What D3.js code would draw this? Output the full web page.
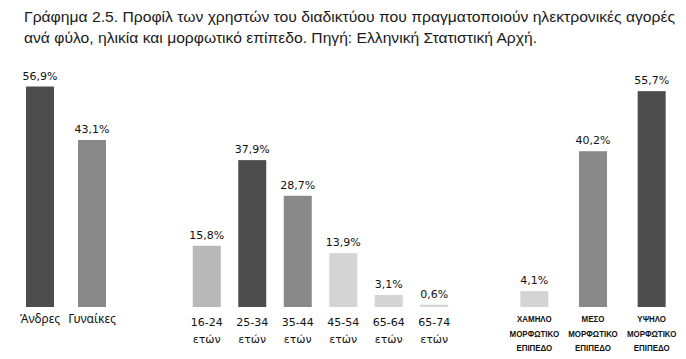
<!DOCTYPE html>
<html><head><meta charset="utf-8">
<script src="https://cdn.jsdelivr.net/npm/d3@7"></script>
<style>body{margin:0;background:#fff}svg{display:block}</style>
</head><body>
<svg id="c" width="686" height="359"></svg>
<script>
const titleLines = ["Γράφημα 2.5. Προφίλ των χρηστών του διαδικτύου που πραγματοποιούν ηλεκτρονικές αγορές",
                    "ανά φύλο, ηλικία και μορφωτικό επίπεδο. Πηγή: Ελληνική Στατιστική Αρχή."];
const genderCats = ["Άνδρες", "Γυναίκες"];
const genderVals = [56.9, 43.1];
const ageCats = ["16-24", "25-34", "35-44", "45-54", "65-64", "65-74"];
const ageVals = [15.8, 37.9, 28.7, 13.9, 3.1, 0.6];
const eduCats = ["ΧΑΜΗΛΟ", "ΜΕΣΟ", "ΥΨΗΛΟ"];
const eduVals = [4.1, 40.2, 55.7];

const fmt = v => d3.format(".1f")(v).replace(".", ",") + "%";
const svg = d3.select("#c");

const titleW = [651, 513];
svg.append("g").selectAll("text").data(titleLines).join("text")
  .attr("x", 24).attr("y", (d,i) => 22 + i*21)
  .attr("font-family", "Liberation Sans, Arial, sans-serif").attr("font-size", 15)
  .attr("textLength", (d,i) => titleW[i]).attr("lengthAdjust", "spacingAndGlyphs")
  .attr("fill", "#1a1a1a").text(d => d);

const y = d3.scaleLinear().domain([0, 56]).range([307, 90]);
const barW = 28;

const groups = [
  {cats: genderCats, vals: genderVals, range: [14, 118],
   colors: ["#4d4d4d", "#898989"], kind: "gender"},
  {cats: ageCats, vals: ageVals, range: [184, 457],
   colors: ["#b8b8b8", "#4d4d4d", "#898989", "#d4d4d4", "#d4d4d4", "#d4d4d4"], kind: "age"},
  {cats: eduCats, vals: eduVals, range: [505, 681],
   colors: ["#d4d4d4", "#898989", "#4d4d4d"], kind: "edu"}
];

groups.forEach(g => {
  const x = d3.scalePoint().domain(g.cats).range(g.range).padding(0.5);
  const data = g.cats.map((c,i) => ({c, v: g.vals[i], col: g.colors[i]}));
  const gg = svg.append("g");
  gg.selectAll("rect").data(data).join("rect")
    .attr("x", d => x(d.c) - barW/2).attr("width", barW)
    .attr("y", d => y(d.v)).attr("height", d => y(0) - y(d.v))
    .attr("fill", d => d.col);
  gg.selectAll("text.val").data(data).join("text").attr("class", "val")
    .attr("x", d => x(d.c)).attr("y", d => y(d.v) - 7)
    .attr("text-anchor", "middle")
    .attr("font-family", "DejaVu Sans, sans-serif").attr("font-size", 11)
    .attr("fill", "#111").text(d => fmt(d.v));
  if (g.kind === "gender") {
    gg.selectAll("text.cat").data(data).join("text").attr("class", "cat")
      .attr("text-anchor", "middle").attr("fill", "#111")
      .attr("x", d => x(d.c)).attr("y", 323)
      .attr("font-family", "Noto Sans, sans-serif").attr("font-size", 12).text(d => d.c);
  } else if (g.kind === "age") {
    const lab = gg.selectAll("text.cat").data(data).join("text").attr("class", "cat")
      .attr("text-anchor", "middle").attr("fill", "#111")
      .attr("font-family", "DejaVu Sans, sans-serif").attr("font-size", 11);
    lab.append("tspan").attr("x", d => x(d.c)).attr("y", 326).text(d => d.c);
    lab.append("tspan").attr("x", d => x(d.c)).attr("y", 343).text("ετών");
  } else {
    const rows = [];
    data.forEach(d => [d.c, "ΜΟΡΦΩΤΙΚΟ", "ΕΠΙΠΕΔΟ"].forEach((s, k) => rows.push({c: d.c, s, k})));
    gg.selectAll("text.cat").data(rows).join("text").attr("class", "cat")
      .attr("text-anchor", "middle").attr("fill", "#111")
      .attr("font-family", "Liberation Sans, sans-serif")
      .attr("font-size", 9).attr("font-weight", "bold")
      .attr("x", d => x(d.c)).attr("y", d => 322 + d.k * 14.5)
      .text(d => d.s)
      .each(function() {
        const w = this.getComputedTextLength();
        d3.select(this).attr("textLength", w * 0.88).attr("lengthAdjust", "spacingAndGlyphs");
      });
  }
});
</script>
</body></html>
